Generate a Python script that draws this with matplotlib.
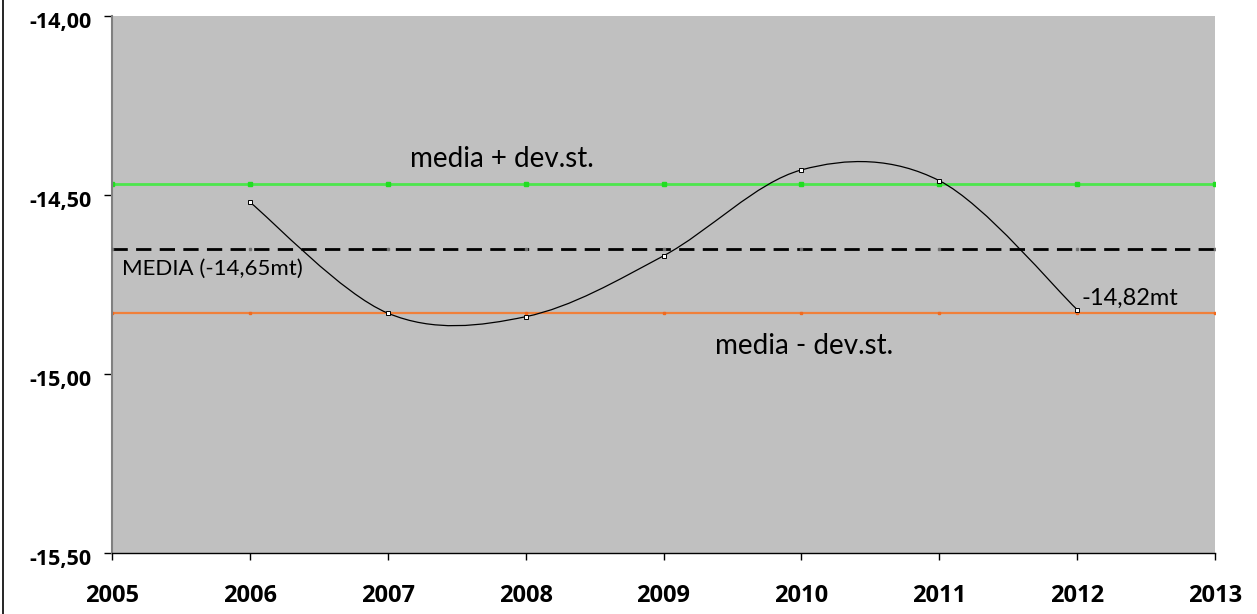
import matplotlib
matplotlib.use("Agg")
from matplotlib import pyplot as plt
from matplotlib.path import Path
from matplotlib.patches import PathPatch
from matplotlib.lines import Line2D
from matplotlib.transforms import ScaledTranslation

years = [2006, 2007, 2008, 2009, 2010, 2011, 2012]
levels = [-14.52, -14.83, -14.84, -14.67, -14.43, -14.46, -14.82]

axis_years = [2005, 2006, 2007, 2008, 2009, 2010, 2011, 2012, 2013]
y_ticks = [-14.00, -14.50, -15.00, -15.50]
y_labels = ["-14,00", "-14,50", "-15,00", "-15,50"]

mean_level = -14.65
upper_level = -14.47   # media + dev.st.
lower_level = -14.83   # media - dev.st.

plt.rcParams['font.family'] = ['Lato', 'DejaVu Sans']

fig = plt.figure(figsize=(12.57, 6.14), dpi=100)
ax = fig.add_axes([0.0891, 0.0993, 0.8775, 0.8747])
ax.set_facecolor("#C0C0C0")

# horizontal reference lines with small markers at every year
ax.plot(axis_years, [upper_level] * len(axis_years), color="#4CE64C", lw=2,
        marker="s", ms=2.5, mec="#22DD22", mfc="#22DD22", zorder=2)
ax.plot(axis_years, [lower_level] * len(axis_years), color="#F0803A", lw=1.6,
        marker="s", ms=2, mec="#F06A20", mfc="#F06A20", zorder=2)
ax.plot(axis_years, [mean_level] * len(axis_years), color="black", lw=2,
        dashes=(5.5, 3), marker="s", ms=2, mec="#707070", mfc="#707070", zorder=3)

# smoothed line through the points (Catmull-Rom as bezier segments, like Excel)
pts = list(zip(years, levels))
verts = [pts[0]]
codes = [Path.MOVETO]
for i in range(len(pts) - 1):
    p0 = pts[i - 1] if i > 0 else pts[i]
    p1 = pts[i]
    p2 = pts[i + 1]
    p3 = pts[i + 2] if i + 2 < len(pts) else pts[i + 1]
    c1 = (p1[0] + (p2[0] - p0[0]) / 6, p1[1] + (p2[1] - p0[1]) / 6)
    c2 = (p2[0] - (p3[0] - p1[0]) / 6, p2[1] - (p3[1] - p1[1]) / 6)
    verts += [c1, c2, p2]
    codes += [Path.CURVE4] * 3
ax.add_patch(PathPatch(Path(verts, codes), fill=False, edgecolor="black", lw=0.9, zorder=4))
ax.plot(years, levels, ls="none", marker="s", ms=3, mfc="white", mec="black", mew=0.7, zorder=5)

ax.text(2007.83, -14.40, "media + dev.st.", fontsize=20, ha="center", va="center")
ax.text(2005.07, -14.707, "MEDIA (-14,65mt)", fontsize=16, ha="left", va="center")
ax.text(2010.02, -14.922, "media - dev.st.", fontsize=20, ha="center", va="center")
ax.text(2012.03, -14.788, "-14,82mt", fontsize=17, ha="left", va="center")

ax.set_xlim(2005, 2013)
ax.set_ylim(-15.5, -14.0)
ax.set_xticks(axis_years)
ax.set_xticklabels([str(y) for y in axis_years], fontsize=17, fontweight="bold",
                   family=["Open Sans", "DejaVu Sans"])
ax.set_yticks(y_ticks)
ax.set_yticklabels(y_labels, fontsize=15.5, fontweight="bold",
                   family=["Open Sans", "DejaVu Sans"])
ax.tick_params(axis="y", length=5.8, width=1, pad=9, color="black")
ax.tick_params(axis="x", length=5, width=1, pad=17, color="black")

# Excel puts the value labels a little below their ticks
shift = ScaledTranslation(0, -4 / 100, fig.dpi_scale_trans)
for lab in ax.get_yticklabels():
    lab.set_transform(lab.get_transform() + shift)

for side in ["top", "right"]:
    ax.spines[side].set_visible(False)
ax.spines["left"].set_color("#808080")
ax.spines["left"].set_linewidth(1.5)
ax.spines["bottom"].set_color("black")
ax.spines["bottom"].set_linewidth(1)

# chart border visible on the left edge
fig.add_artist(Line2D([3 / 1257, 3 / 1257], [0, 1], color="black", lw=1.2))

fig.savefig("out.png", dpi=100)
